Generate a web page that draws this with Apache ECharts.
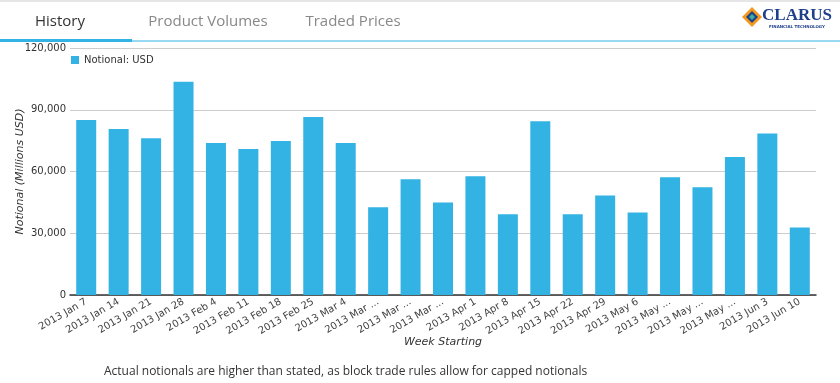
<!DOCTYPE html>
<html><head><meta charset="utf-8">
<script src="https://cdn.jsdelivr.net/npm/echarts@6/dist/echarts.min.js"></script>
<style>html,body{margin:0;padding:0;background:#fff}#c{width:840px;height:383px}</style>
</head><body><div id="c"></div>
<script>
const categories = ["2013 Jan 7","2013 Jan 14","2013 Jan 21","2013 Jan 28","2013 Feb 4","2013 Feb 11","2013 Feb 18","2013 Feb 25","2013 Mar 4","2013 Mar ...","2013 Mar ...","2013 Mar ...","2013 Apr 1","2013 Apr 8","2013 Apr 15","2013 Apr 22","2013 Apr 29","2013 May 6","2013 May ...","2013 May ...","2013 May ...","2013 Jun 3","2013 Jun 10"];
const notionalUSD = [85000,80600,76200,103600,73800,70900,74800,86500,73800,42600,56200,45000,57700,39200,84400,39200,48400,40100,57200,52300,67000,78500,32800];
const yTicks = [0,30000,60000,90000,120000];
const tabs = ["History","Product Volumes","Traded Prices"];
const seriesName = "Notional: USD";
const footnote = "Actual notionals are higher than stated, as block trade rules allow for capped notionals";

const chart = echarts.init(document.getElementById('c'), null, {renderer:'canvas'});
const BLUE = '#33b3e3';
chart.setOption({
  animation:false,
  grid:{left:70,right:24,top:48,bottom:88,containLabel:false,outerBoundsMode:'none'},
  legend:{show:true,left:66,top:50,itemWidth:8,itemHeight:8,icon:'rect',
    textStyle:{fontFamily:'DejaVu Sans',fontSize:10,color:'#333'},data:[seriesName]},
  xAxis:{type:'category',data:categories,
    axisLine:{lineStyle:{color:'#333',width:1.5}},axisTick:{show:false},
    axisLabel:{rotate:30,interval:0,fontFamily:'DejaVu Sans',fontSize:10,color:'#444',margin:6},
    name:'Week Starting',nameLocation:'middle',nameGap:42,nameMoveOverlap:false,
    nameTextStyle:{fontFamily:'DejaVu Sans',fontStyle:'italic',fontSize:11,color:'#333'}},
  yAxis:{type:'value',min:0,max:120000,interval:30000,
    axisLabel:{fontFamily:'DejaVu Sans',fontSize:10,color:'#333',margin:4,
      formatter:v=>yTicks.includes(v)?v.toLocaleString('en-US'):''},
    splitLine:{lineStyle:{color:'#cccccc'}},axisLine:{show:false},axisTick:{show:false},
    name:'Notional (Millions USD)',nameLocation:'middle',nameGap:44,nameMoveOverlap:false,
    nameTextStyle:{fontFamily:'DejaVu Sans',fontStyle:'italic',fontSize:11,color:'#333'}},
  series:[{name:seriesName,type:'bar',data:notionalUSD,barWidth:20,itemStyle:{color:BLUE}}],
  graphic:[
    {type:'rect',shape:{x:0,y:0,width:840,height:2},style:{fill:'#e6e6e6'}},
    {type:'rect',shape:{x:0,y:40.5,width:840,height:1},style:{fill:BLUE}},
    {type:'rect',shape:{x:0,y:39,width:132,height:3},style:{fill:BLUE}},
    {type:'text',x:60,y:22,style:{text:tabs[0],font:'15px "Open Sans"',fill:'#333',textAlign:'center',textVerticalAlign:'middle'}},
    {type:'text',x:208,y:22,style:{text:tabs[1],font:'15px "Open Sans"',fill:'#888',textAlign:'center',textVerticalAlign:'middle'}},
    {type:'text',x:353,y:22,style:{text:tabs[2],font:'15px "Open Sans"',fill:'#888',textAlign:'center',textVerticalAlign:'middle'}},
    {type:'polygon',shape:{points:[[752,7],[762,17],[752,27],[742,17]]},style:{fill:'#f39a1e'}},
    {type:'polygon',shape:{points:[[752,11],[758,17],[752,23],[746,17]]},style:{fill:'#1e3f8a'}},
    {type:'polygon',shape:{points:[[752,14],[755,17],[752,20],[749,17]]},style:{fill:'#3ab0a0'}},
    {type:'text',x:797,y:16,style:{text:'CLARUS',font:'bold 17px "Liberation Serif"',fill:'#1e3f8a',textAlign:'center',textVerticalAlign:'middle'}},
    {type:'text',x:797,y:27,style:{text:'FINANCIAL TECHNOLOGY',font:'bold 4px "DejaVu Sans"',fill:'#1e3f8a',textAlign:'center',textVerticalAlign:'middle'}},
    {type:'text',x:104,y:372,style:{text:footnote,font:'12px "Open Sans"',fill:'#333',textVerticalAlign:'middle'}}
  ]
});
</script></body></html>
